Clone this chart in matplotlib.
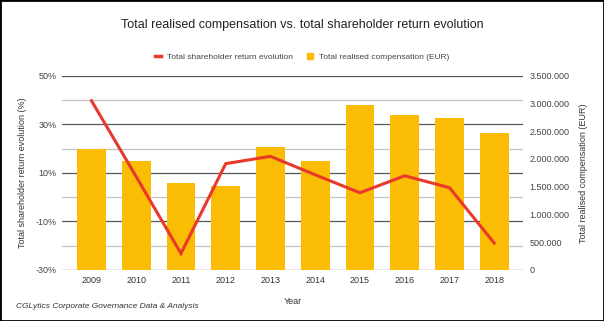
import matplotlib
matplotlib.use("Agg")
import matplotlib.pyplot as plt
from matplotlib.patches import Rectangle
from matplotlib.lines import Line2D
from matplotlib.ticker import FuncFormatter

plt.rcParams['font.family'] = ['Liberation Sans', 'DejaVu Sans']

years = ['2009', '2010', '2011', '2012', '2013', '2014', '2015', '2016', '2017', '2018']
compensation = [2178000, 1972000, 1564000, 1515000, 2214000, 1972000, 2971000, 2791000, 2730000, 2477000]
tsr = [39.7, 8.4, -23.2, 13.8, 16.8, 9.2, 1.8, 8.8, 3.9, -18.9]

bar_color = '#fbbc04'
line_color = '#e8392b'

fig = plt.figure(figsize=(6.04, 3.21), dpi=100)
ax = fig.add_axes([0.1026, 0.159, 0.763, 0.605])
ax2 = ax.twinx()

x = list(range(len(years)))

# left axis: percent scale, gridlines
ax.set_ylim(-30, 50)
ax.set_yticks([-30, -10, 10, 30, 50])
ax.set_yticks([-20, 0, 20, 40], minor=True)
ax.yaxis.set_major_formatter(FuncFormatter(lambda v, p: f'{v:.0f}%'))
ax.grid(which='major', axis='y', color='#555555', lw=0.9)
ax.grid(which='minor', axis='y', color='#c4c4c4', lw=0.9)
ax.set_axisbelow(True)
ax.tick_params(axis='y', which='both', length=0, labelsize=6.5, colors='#444444', pad=4)
ax.tick_params(axis='x', length=0, labelsize=6.5, colors='#333333', pad=4)
ax.set_xlim(-0.66, 9.64)
ax.set_xticks(x)
ax.set_xticklabels(years)
for s in ax.spines.values():
    s.set_visible(False)

# right axis: compensation bars, line drawn on top using the left scale
ax2.bar(x, compensation, width=0.64, color=bar_color, zorder=2)
ax2.plot(x, tsr, color=line_color, lw=2.2, transform=ax.transData, zorder=3,
         solid_joinstyle='miter')
ax2.set_ylim(0, 3500000)
ax2.set_yticks(range(0, 3500001, 500000))
ax2.yaxis.set_major_formatter(FuncFormatter(lambda v, p: f'{int(v):,}'.replace(',', '.')))
ax2.tick_params(axis='y', length=0, labelsize=6.5, colors='#444444', pad=5)
for s in ax2.spines.values():
    s.set_visible(False)

ax.set_ylabel('Total shareholder return evolution (%)', fontsize=6.5, color='#333333', labelpad=6)
ax2.set_ylabel('Total realised compensation (EUR)', fontsize=6.5, color='#333333', labelpad=7)
ax.set_xlabel('Year', fontsize=6.5, color='#333333', labelpad=9)

fig.text(0.5, 0.922, 'Total realised compensation vs. total shareholder return evolution',
         ha='center', va='center', fontsize=9, color='#222222')

handles = [Line2D([0], [0], color=line_color, lw=2.5),
           Rectangle((0, 0), 1, 1, color=bar_color)]
fig.legend(handles, ['Total shareholder return evolution', 'Total realised compensation (EUR)'],
           loc='center', bbox_to_anchor=(0.5, 0.822), ncol=2, frameon=False, fontsize=6,
           handlelength=0.8, handleheight=0.8, handletextpad=0.7, columnspacing=1.6,
           labelcolor='#444444')

fig.text(0.027, 0.044, 'CGLytics Corporate Governance Data & Analysis', fontsize=6,
         style='italic', color='#333333', ha='left', va='center')

fig.patches.append(Rectangle((0, 0), 1, 1, transform=fig.transFigure, fill=False,
                             ec='black', lw=2))

fig.savefig('out.png', dpi=100)
